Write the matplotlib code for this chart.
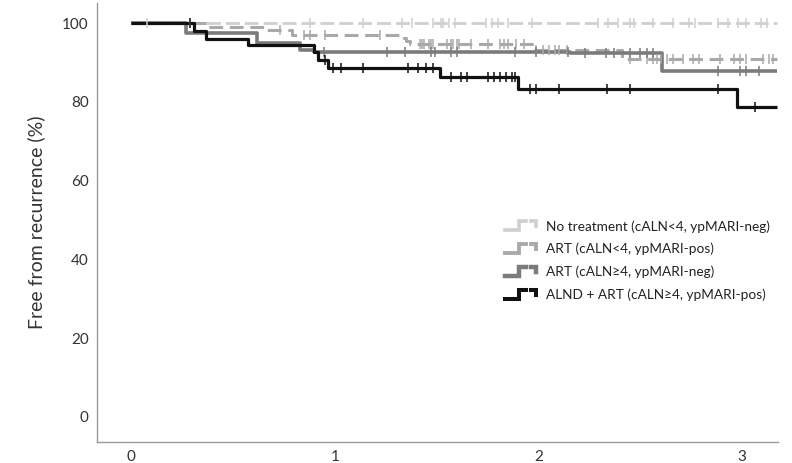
import numpy as np
import matplotlib
matplotlib.use("Agg")
import matplotlib.pyplot as plt
from matplotlib.lines import Line2D
from matplotlib.legend_handler import HandlerBase

plt.rcParams["font.family"] = ["Lato", "DejaVu Sans"]

# Kaplan-Meier step curves: event times (years) and survival after each step (%)
labels = [
    "No treatment (cALN<4, ypMARI-neg)",
    "ART (cALN<4, ypMARI-pos)",
    "ART (cALN\u22654, ypMARI-neg)",
    "ALND + ART (cALN\u22654, ypMARI-pos)",
]

none_t = [0.0]
none_s = [100.0]
none_cens = [0.08, 0.29, 0.88, 1.14, 1.33, 1.38, 1.48, 1.52, 1.53, 1.56, 1.59, 1.74, 1.77, 1.80,
             1.85, 1.97, 2.29, 2.34, 2.39, 2.45, 2.47, 2.56, 2.66, 2.74, 2.77, 2.88, 2.93,
             2.98, 3.02, 3.09, 3.12]

artpos_t = [0.0, 0.38, 0.66, 0.79, 1.33, 1.35, 1.37, 1.97, 2.41]
artpos_s = [100.0, 99.0, 98.2, 97.1, 96.3, 95.5, 94.8, 93.3, 90.8]
artpos_cens = [0.73, 0.85, 0.88, 0.95, 1.22, 1.43, 1.46, 1.48, 1.42, 1.44, 1.47, 1.55, 1.57, 1.58,
               1.60, 1.61, 1.67, 1.75, 1.81, 1.83, 1.85, 1.89, 1.93, 1.99, 2.02, 2.05, 2.08,
               2.10, 2.14, 2.45, 2.53, 2.56, 2.58, 2.60, 2.63, 2.66, 2.71, 2.76, 2.79, 2.89,
               2.96, 2.99, 3.02, 3.10, 3.13, 3.15]

artneg_t = [0.0, 0.27, 0.62, 0.83, 0.90, 2.155, 2.605]
artneg_s = [100.0, 97.4, 94.9, 93.3, 92.7, 92.4, 87.9]
artneg_cens = [0.945, 1.255, 1.345, 1.47, 1.49, 1.57, 1.60, 1.885, 1.99, 2.145, 2.23, 2.33,
               2.37, 2.45, 2.50, 2.53, 2.56, 2.88, 2.99, 3.02, 3.08]

alnd_t = [0.0, 0.31, 0.37, 0.575, 0.90, 0.92, 0.965, 1.515, 1.90, 2.975]
alnd_s = [100.0, 97.9, 96.1, 94.5, 92.7, 90.6, 88.5, 86.4, 83.2, 78.8]
alnd_cens = [0.29, 0.95, 0.99, 1.03, 1.14, 1.36, 1.41, 1.45, 1.48, 1.57, 1.62, 1.65, 1.75,
             1.78, 1.81, 1.84, 1.87, 1.885, 1.96, 1.99, 2.10, 2.335, 2.45, 2.88, 3.06]

t_end = 3.17

series = [
    (none_t, none_s, none_cens, "#cfcfcf", 2.0, (5, 1.8)),
    (artpos_t, artpos_s, artpos_cens, "#a9a9a9", 2.2, (4.5, 2.2)),
    (artneg_t, artneg_s, artneg_cens, "#7b7b7b", 2.6, None),
    (alnd_t, alnd_s, alnd_cens, "#111111", 2.3, None),
]

fig = plt.figure(figsize=(7.92, 4.63), dpi=100)
ax = fig.add_axes([0.1225, 0.0454, 0.86, 0.948])

handles = []
for (t, s, cens, color, lw, dashes), lab in zip(series, labels):
    tt = np.append(t, t_end)
    ss = np.append(s, s[-1])
    line, = ax.step(tt, ss, where="post", color=color, lw=lw, label=lab,
                    solid_capstyle="butt", zorder=3)
    if dashes is not None:
        line.set_dashes(dashes)
    # censoring marks sit on the curve value at each censored time
    c = np.array(cens)
    idx = np.searchsorted(t, c, side="right") - 1
    ax.plot(c, np.array(s)[idx], ls="none", marker="|", ms=6.5, mew=1.1,
            color=color, zorder=4)
    handles.append(line)


class StepHandler(HandlerBase):
    def create_artists(self, legend, orig_handle, xdescent, ydescent, width, height,
                       fontsize, trans):
        color = orig_handle.get_color()
        lw = orig_handle.get_linewidth() + 0.6
        x0, y0 = -xdescent, -ydescent
        lo, hi = y0 + 0.1 * height, y0 + 0.9 * height
        a = Line2D([x0, x0 + 0.45 * width, x0 + 0.45 * width, x0 + 0.68 * width],
                   [lo, lo, hi, hi], color=color, lw=lw, transform=trans)
        b = Line2D([x0 + 0.82 * width, x0 + width, x0 + width],
                   [hi, hi, hi - 0.45 * height], color=color, lw=lw, transform=trans)
        for ln in (a, b):
            ln.set_solid_joinstyle("miter")
        return [a, b]


ax.legend(handles=handles, handler_map={h: StepHandler() for h in handles},
          loc="upper left", bbox_to_anchor=(505 / 792, 1 - 220 / 463),
          bbox_transform=fig.transFigure, frameon=False, fontsize=9.85,
          handlelength=2.3, handleheight=0.9, handletextpad=0.7,
          labelspacing=0.76, borderpad=0, borderaxespad=0,
          labelcolor="#222222")

ax.set_xlim(-0.167, 3.176)
ax.set_ylim(-6.35, 105.1)
ax.set_xticks([0, 1, 2, 3])
ax.set_yticks([0, 20, 40, 60, 80, 100])
ax.tick_params(length=0, labelsize=11, colors="#333333", pad=6)
ax.set_ylabel("Free from recurrence (%)", fontsize=14, color="#333333", labelpad=12)

for side in ("top", "right"):
    ax.spines[side].set_visible(False)
for side in ("left", "bottom"):
    ax.spines[side].set_color("#9a9a9a")
    ax.spines[side].set_linewidth(1.0)

fig.savefig("out.png", dpi=100)
